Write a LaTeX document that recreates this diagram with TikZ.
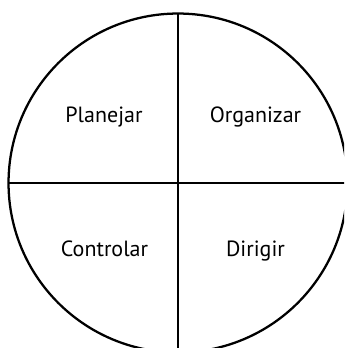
\documentclass[tikz,border=0pt]{standalone}
\usepackage{fontspec}
\setmainfont{PT Sans}
\tikzset{
  rim/.style={line width=1.7pt},
  lbl/.style={anchor=base,inner sep=0pt,font=\fontsize{16.5}{19}\selectfont}
}
\begin{document}
\begin{tikzpicture}[x=0.75pt,y=-0.75pt]
        \useasboundingbox (0,0) rectangle (344,348);
        \clip (0,0) rectangle (344,348);
        % Circle
        \coordinate (c) at (178,183);
        \draw[rim] (c) circle (127.1pt);
        % Axes
        \coordinate (top) at (178,14);
        \coordinate (bot) at (178,350);
        \coordinate (lft) at (8,183);
        \coordinate (rgt) at (346,183);
        \draw[rim] (top) -- (bot);
        \draw[rim] (lft) -- (rgt);
        % Labels
        \node[lbl] (plan) at (104,123) {Planejar};
        \node[lbl] (org) at (255.5,123) {Organizar};
        \node[lbl] (ctrl) at (104.5,256) {Controlar};
        \node[lbl] (dir) at (255.5,256) {Dirigir};
\end{tikzpicture}
\end{document}
